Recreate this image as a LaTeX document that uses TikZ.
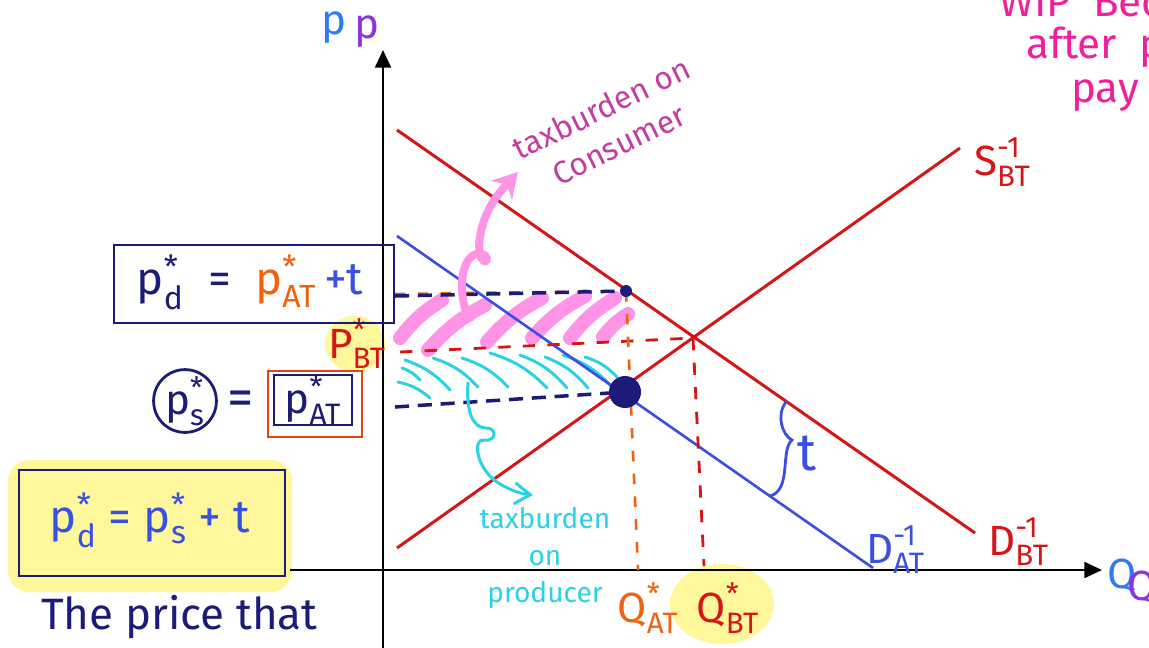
\documentclass[tikz,border=0pt]{standalone}
\usepackage{amsmath}
\usepackage{fontspec}
\setmainfont{Fira Sans}
\usetikzlibrary{arrows.meta,calc}
\definecolor{rot}{HTML}{D41616}
\definecolor{blau}{HTML}{3A50E0}
\definecolor{navy}{HTML}{1C1C78}
\definecolor{orng}{HTML}{F0620F}
\definecolor{rosa}{HTML}{FF94E6}
\definecolor{mag}{HTML}{C43C9E}
\definecolor{tuerkis}{HTML}{2AD2E4}
\definecolor{gelb}{HTML}{FFF47A}
\definecolor{pink}{HTML}{F0209A}
\definecolor{pblau}{HTML}{2F7BF5}
\definecolor{lila}{HTML}{8A35DD}
\newcommand{\hs}[3]{\(\text{#1}^{\text{#2}}_{\text{#3}}\)}
\tikzset{
  ax/.style={-{Triangle[length=10pt,width=9pt]},black,line width=1.4pt},
  kurve/.style={rot,line width=1.7pt},
  kurveb/.style={blau,line width=1.5pt},
  hilfn/.style={navy,line width=2pt,dash pattern=on 8pt off 5pt},
  hilfr/.style={rot,line width=1.6pt,dash pattern=on 7pt off 7pt},
  hilfo/.style={orng,line width=1.5pt,dash pattern=on 6pt off 7pt},
  schraffr/.style={rosa,line width=8pt,line cap=round},
  schrafft/.style={tuerkis,line width=1.7pt,line cap=round},
  rahmen/.style={draw=navy,line width=1.6pt,inner sep=0pt},
  leucht/.style={fill=gelb,opacity=0.75},
  gross/.style={font=\fontsize{24}{28}\selectfont},
}
\begin{document}
\begin{tikzpicture}[x=0.02cm,y=-0.02cm,font=\fontsize{20}{24}\selectfont]
  \useasboundingbox (0,0) rectangle (1149,647);
  % Markierungen
  \fill[leucht,rounded corners=12pt] (8,460) rectangle (292,592);
  \fill[leucht] (355,344) ellipse (30 and 28);
  \fill[leucht] (722,604) ellipse (52 and 40);
  % Achsen
  \coordinate (ybot) at (383,660);
  \coordinate (ytop) at (383,50);
  \coordinate (xl) at (290,570);
  \coordinate (xr) at (1102,570);
  \draw[ax] (ybot)--(ytop);
  \draw[ax] (xl)--(xr);
  \node[pblau,gross] (pa) at (334,28) {p};
  \node[lila,gross] (pb) at (367,32) {p};
  \node[pblau,gross] (qa) at (1122,576) {Q};
  \node[lila,gross] (qb) at (1142,588) {Q};
  % Kurven
  \coordinate (sa) at (397,548);
  \coordinate (sb) at (960,148);
  \coordinate (da) at (397,130);
  \coordinate (db) at (975,533);
  \coordinate (ta) at (397,236);
  \coordinate (tb) at (873,568);
  \coordinate (eqbt) at (693,338);
  \coordinate (eqat) at (625,392);
  \coordinate (pdp) at (626,291);
  % Schraffur Konsument
  \foreach \xa/\ya/\xb/\yb in {400/338/442/300, 428/350/485/305, 487/342/542/298,
      532/338/585/296, 570/338/615/298, 603/337/628/314}
    \draw[schraffr] (\xa,\ya) to[bend left=10] (\xb,\yb);
  % Schraffur Produzent
  \foreach \xa/\ya/\xb/\yb in {405/360/450/390, 433/358/478/387, 462/358/508/387,
      490/353/547/388, 520/355/567/388, 545/357/588/388, 563/355/613/388,
      585/357/617/377, 398/382/430/398, 402/368/420/380}
    \draw[schrafft] (\xa,\ya) to[bend left=14] (\xb,\yb);
  \draw[kurve] (sa)--(sb);
  \draw[kurve] (da)--(db);
  \draw[kurveb] (ta)--(tb);
  % Hilfslinien
  \coordinate (hpd) at (395,296);
  \coordinate (hbt) at (400,352);
  \coordinate (hps) at (395,407);
  \coordinate (qat) at (638,570);
  \coordinate (qbt) at (704,566);
  \draw[hilfo] ($(hpd)+(0,-2)$)--(pdp);
  \draw[hilfn] (hpd)--(pdp);
  \draw[hilfr] (hbt)--(eqbt);
  \draw[hilfn] (hps)--(eqat);
  \draw[hilfo] (pdp)--(qat);
  \draw[hilfr] (eqbt)--(qbt);
  \fill[navy] (pdp) circle (6);
  \fill[navy] (eqat) circle (16);
  % Pfeile
  \coordinate (ka) at (470,322);
  \coordinate (kb) at (518,172);
  \draw[rosa,line width=4.5pt,-{Stealth[length=14pt,width=16pt]}] (ka)
    .. controls (455,290) and (462,250) .. (482,254)
    .. controls (494,258) and (480,272) .. (479,245)
    .. controls (482,210) and (500,192) .. (kb);
  \coordinate (pa1) at (468,382);
  \coordinate (pa2) at (533,495);
  \draw[tuerkis,line width=1.7pt,-{Straight Barb[length=9pt,width=12pt]}] (pa1)
    .. controls (466,410) and (472,428) .. (486,428)
    .. controls (498,428) and (496,442) .. (484,440)
    .. controls (472,438) and (476,470) .. (500,484)
    .. controls (512,491) and (522,494) .. (pa2);
  % t-Klammer
  \coordinate (ko) at (786,402);
  \coordinate (ku) at (770,496);
  \draw[blau,line width=1.6pt,line cap=round] (ko)
    .. controls (776,415) and (782,435) .. (792,440)
    .. controls (780,450) and (792,490) .. (ku);
  \node[blau,font=\fontsize{30}{32}\selectfont] (tl) at (807,453) {t};
  % Texte
  \node[mag,rotate=26,align=center,font=\fontsize{18}{23}\selectfont] (tkons) at (610,126)
    {taxburden on\\Consumer};
  \node[tuerkis,align=center,font=\fontsize{16}{21}\selectfont] (tprod) at (545,558)
    {taxburden\\on\\producer};
  \node[rot,gross,anchor=west] (lsbt) at (968,162) {\hs{S}{-1}{BT}};
  \node[rot,gross,anchor=west] (ldbt) at (982,542) {\hs{D}{-1}{BT}};
  \node[blau,gross,anchor=west] (ldat) at (860,550) {\hs{D}{-1}{AT}};
  \node[orng,gross] (lqat) at (648,608) {\hs{Q}{*}{AT}};
  \node[rot,gross] (lqbt) at (728,608) {\hs{Q}{*}{BT}};
  \node[rot,gross] (lpbt) at (357,344) {\hs{P}{*}{BT}};
  % linke Kaesten
  \node[rahmen,minimum width=5.6cm,minimum height=1.56cm] (boxpd) at (254,284) {};
  \node[font=\fontsize{26}{30}\selectfont] (gpd) at (250,282)
    {\textcolor{navy}{\hs{p}{*}{d}\ \ =}\ \ \textcolor{orng}{\hs{p}{*}{AT}}\textcolor{blau}{\,+t}};
  \node[draw=navy,circle,line width=1.6pt,minimum size=1.15cm,inner sep=0pt,navy,gross] (kps) at (185,401) {\hs{p}{*}{s}};
  \node[navy,font=\fontsize{30}{32}\selectfont] (gl) at (241,403) {=};
  \node[draw=orng!60!rot,line width=1.6pt,minimum width=1.88cm,minimum height=1.32cm] (boxr) at (315,404) {};
  \node[rahmen,minimum width=1.56cm,minimum height=1cm,navy,gross] (boxpat) at (313,400) {\hs{p}{*}{AT}};
  \node[rahmen,minimum width=5.32cm,minimum height=2.12cm] (boxeq) at (152,523) {};
  \node[blau,font=\fontsize{26}{30}\selectfont] (geq) at (150,520) {\hs{p}{*}{d} = \hs{p}{*}{s} + t};
  \node[navy,anchor=west,font=\fontsize{25}{28}\selectfont] (preis) at (35,617) {The price that};
  % Notiz oben rechts
  \node[pink,anchor=base west,gross] (n1) at (993,16) {WIP\ \ Bec};
  \node[pink,anchor=base west,gross] (n2) at (1020,58) {after\ \ p};
  \node[pink,anchor=base west,gross] (n3) at (1065,102) {pay\ \ t};
\end{tikzpicture}
\end{document}
